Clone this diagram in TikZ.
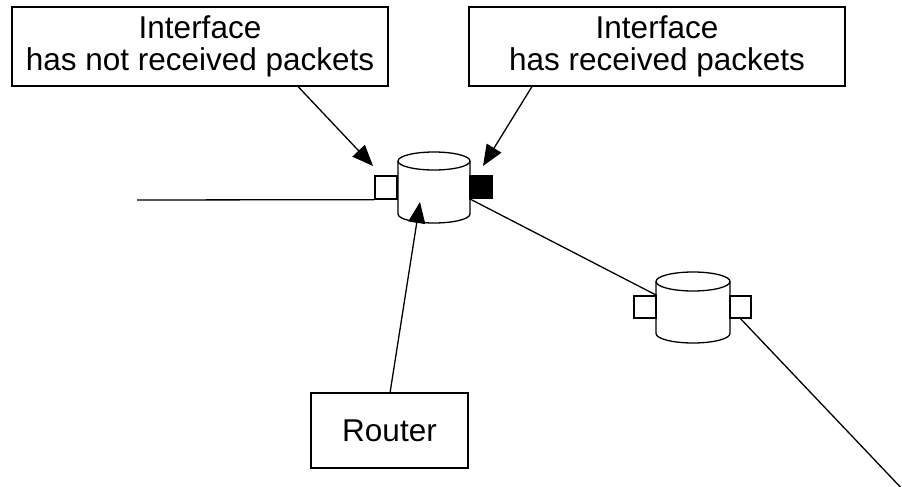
\documentclass[tikz,border=0pt]{standalone}
\usepackage{fontspec}
\setmainfont{Liberation Sans}
\usetikzlibrary{arrows.meta}
\tikzset{
  lbl/.style={draw, line width=1.3pt, align=center, inner sep=0pt,
    font=\fontsize{31.5}{32}\selectfont},
  port/.style={draw, line width=1.3pt, fill=white, inner sep=0pt, minimum width=22pt, minimum height=22pt},
  blackport/.style={port, fill=black},
  wire/.style={line width=1.3pt},
  pointer/.style={line width=1.3pt, -{Triangle[length=21pt,width=17pt]}},
  cyl/.style={line width=1.3pt, fill=white}
}
\begin{document}
\begin{tikzpicture}[x=1pt,y=-1pt]
\useasboundingbox (0,0) rectangle (902,487);
% text boxes
\node[lbl, minimum width=376pt, minimum height=79pt] (box1) at (200,46.5) {Interface\\has not received packets};
\node[lbl, minimum width=376pt, minimum height=79pt] (box2) at (657,46.5) {Interface\\has received packets};
\node[lbl, minimum width=157pt, minimum height=75pt] (rtr) at (389.5,430.5) {Router};
% router 1 cylinder
\draw[cyl] (398,161) -- (398,214) arc[start angle=180,end angle=0,x radius=36,y radius=9] -- (470,161);
\draw[cyl] (434,161) ellipse[x radius=36, y radius=9];
% router 2 cylinder
\draw[cyl] (656,281.5) -- (656,333.5) arc[start angle=180,end angle=0,x radius=37,y radius=9.5] -- (730,281.5);
\draw[cyl] (693,281.5) ellipse[x radius=37, y radius=9.5];
% ports
\node[port, minimum height=23pt] (p1) at (386,187.5) {};
\node[blackport] (p1b) at (481,187) {};
\node[port] (p2l) at (645,307) {};
\node[port, minimum width=21pt] (p2r) at (740.5,307) {};
% wires
\coordinate (wl) at (137,200);
\coordinate (wr) at (906,493);
\draw[wire] (wl) -- (p1.south west);
\draw[wire] (p1b.south west) -- (p2l.north east);
\draw[wire] (p2r.south) -- (wr);
% pointers
\coordinate (a1s) at (298,86.5);
\coordinate (a1t) at (373,166);
\coordinate (a2s) at (532,86.5);
\coordinate (a2t) at (483,166);
\coordinate (a3s) at (390,393);
\coordinate (a3t) at (420,202);
\draw[pointer] (a1s) -- (a1t);
\draw[pointer] (a2s) -- (a2t);
\draw[pointer] (a3s) -- (a3t);
\end{tikzpicture}
\end{document}
